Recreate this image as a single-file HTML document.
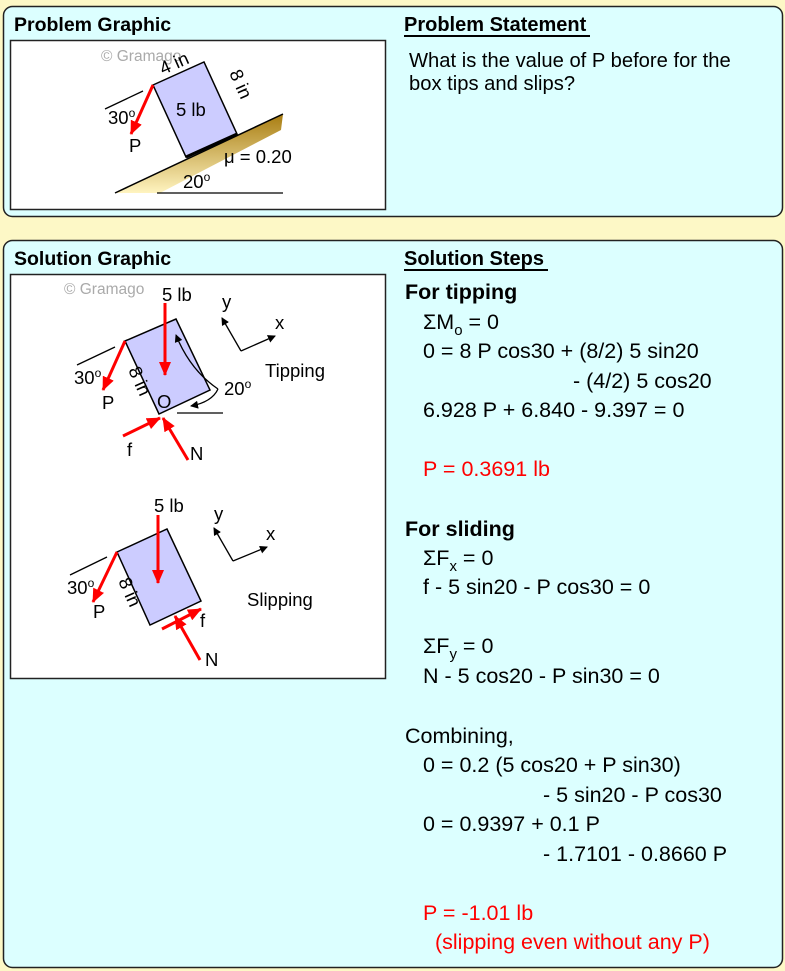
<!DOCTYPE html>
<html><head><meta charset="utf-8"><style>
html,body{margin:0;padding:0;background:#fdf8c6;}
svg{display:block;font-family:"Liberation Sans",Arial,sans-serif;}
</style></head><body>
<svg width="785" height="971" viewBox="0 0 785 971" xmlns="http://www.w3.org/2000/svg">
<defs>
<marker id="ar" markerWidth="8" markerHeight="8" refX="7" refY="4" orient="auto" markerUnits="userSpaceOnUse"><path d="M0,0 L8,4 L0,8 Z" fill="#000"/></marker>
<marker id="rr" markerWidth="14" markerHeight="12" refX="13" refY="6" orient="auto" markerUnits="userSpaceOnUse"><path d="M0,0 L14,6 L0,12 Z" fill="#f00"/></marker>
<linearGradient id="gd" x1="0" y1="0" x2="0" y2="1"><stop offset="0" stop-color="#a87c10"/><stop offset="1" stop-color="#fff4c0"/></linearGradient>
</defs>
<rect x="3.5" y="6.5" width="779" height="210" rx="9" fill="#dcffff" stroke="#222" stroke-width="1.5"/>
<rect x="3.5" y="240.5" width="779" height="727" rx="9" fill="#dcffff" stroke="#222" stroke-width="1.5"/>
<text x="14" y="31" font-size="19.5" font-weight="bold">Problem Graphic</text>
<text x="404" y="31" font-size="20" font-weight="bold">Problem Statement</text>
<line x1="404" y1="36" x2="590" y2="36" stroke="#000" stroke-width="2"/>
<text x="409" y="67" font-size="20.2">What is the value of P before for the</text>
<text x="409" y="90" font-size="20.2">box tips and slips?</text>
<rect x="10.5" y="40.5" width="375" height="169" fill="#fff" stroke="#222" stroke-width="1.5"/>
<text x="101" y="61" font-size="15.5" fill="#aaa">© Gramago</text>
<polygon points="115,193 283,114 281,130 160,193" fill="url(#gd)"/>
<line x1="115" y1="193" x2="283" y2="114" stroke="#000" stroke-width="1.5"/>
<line x1="157" y1="193" x2="283" y2="193" stroke="#000" stroke-width="1.3"/>
<polygon points="153,85 204,62 237,134 186,157" fill="#ccccff" stroke="#000" stroke-width="1.5"/>
<line x1="186" y1="157" x2="237" y2="134" stroke="#000" stroke-width="3"/>
<line x1="105" y1="109" x2="143" y2="91" stroke="#000" stroke-width="1.3"/>
<line x1="153" y1="85" x2="131" y2="134" stroke="#f00" stroke-width="3" marker-end="url(#rr)"/>
<g font-size="18.5">
<text x="108" y="124">30<tspan font-size="12" dy="-7">o</tspan></text>
<text x="129" y="152">P</text>
<text x="176" y="116">5 lb</text>
<text transform="translate(163,75) rotate(-24)">4 in</text>
<text transform="translate(229,73) rotate(66)">8 in</text>
<text x="224" y="163">μ = 0.20</text>
<text x="183" y="188">20<tspan font-size="12" dy="-7">o</tspan></text>
</g>

<text x="14" y="265" font-size="19.5" font-weight="bold">Solution Graphic</text>
<text x="404" y="265" font-size="20" font-weight="bold">Solution Steps</text>
<line x1="404" y1="270" x2="548" y2="270" stroke="#000" stroke-width="2"/>
<rect x="10.5" y="274.5" width="375" height="404" fill="#fff" stroke="#222" stroke-width="1.5"/>
<text x="64" y="294" font-size="15.5" fill="#aaa">© Gramago</text>
<g font-size="18.5">
<!-- tipping -->
<polygon points="125,341 176,319 210,390 159,414" fill="#ccccff" stroke="#000" stroke-width="1.5"/>
<line x1="165" y1="303" x2="165" y2="375" stroke="#f00" stroke-width="3" marker-end="url(#rr)"/>
<text x="162" y="301">5 lb</text>
<line x1="77" y1="365" x2="115" y2="347" stroke="#000" stroke-width="1.3"/>
<line x1="125" y1="341" x2="103" y2="390" stroke="#f00" stroke-width="3" marker-end="url(#rr)"/>
<text x="74" y="384">30<tspan font-size="12" dy="-7">o</tspan></text>
<text x="102" y="409">P</text>
<text transform="translate(128,370) rotate(66)">8 in</text>
<text x="157" y="408">O</text>
<line x1="123" y1="436" x2="160" y2="418" stroke="#f00" stroke-width="3" marker-end="url(#rr)"/>
<line x1="188" y1="460" x2="163" y2="418" stroke="#f00" stroke-width="3" marker-end="url(#rr)"/>
<text x="127" y="456">f</text>
<text x="190" y="460">N</text>
<line x1="241" y1="351" x2="222" y2="318" stroke="#000" stroke-width="1.3" marker-end="url(#ar)"/>
<line x1="241" y1="351" x2="275" y2="336" stroke="#000" stroke-width="1.3" marker-end="url(#ar)"/>
<text x="222" y="308">y</text>
<text x="275" y="329">x</text>
<text x="265" y="377">Tipping</text>
<path d="M218,389 Q190,370 176,335" fill="none" stroke="#000" stroke-width="1.3" marker-end="url(#ar)"/>
<path d="M218,389 Q212,402 191,406" fill="none" stroke="#000" stroke-width="1.3" marker-end="url(#ar)"/>
<line x1="177" y1="413" x2="223" y2="413" stroke="#000" stroke-width="1.3"/>
<text x="224" y="395">20<tspan font-size="12" dy="-7">o</tspan></text>
<!-- slipping -->
<polygon points="117,552 167,529 201,601 150,625" fill="#ccccff" stroke="#000" stroke-width="1.5"/>
<line x1="158" y1="515" x2="158" y2="583" stroke="#f00" stroke-width="3" marker-end="url(#rr)"/>
<text x="154" y="512">5 lb</text>
<line x1="70" y1="575" x2="107" y2="557" stroke="#000" stroke-width="1.3"/>
<line x1="117" y1="552" x2="93" y2="602" stroke="#f00" stroke-width="3" marker-end="url(#rr)"/>
<text x="67" y="594">30<tspan font-size="12" dy="-7">o</tspan></text>
<text x="93" y="618">P</text>
<text transform="translate(118,581) rotate(66)">8 in</text>
<line x1="162" y1="629" x2="201" y2="609" stroke="#f00" stroke-width="3" marker-end="url(#rr)"/>
<line x1="200" y1="660" x2="175" y2="616" stroke="#f00" stroke-width="3" marker-end="url(#rr)"/>
<text x="200" y="627">f</text>
<text x="205" y="666">N</text>
<line x1="233" y1="561" x2="214" y2="528" stroke="#000" stroke-width="1.3" marker-end="url(#ar)"/>
<line x1="233" y1="561" x2="267" y2="547" stroke="#000" stroke-width="1.3" marker-end="url(#ar)"/>
<text x="214" y="520">y</text>
<text x="266" y="540">x</text>
<text x="247" y="606">Slipping</text>
</g>

<g font-size="21.5">
<text x="405" y="299" font-weight="bold">For tipping</text>
<text x="423" y="329">ΣM<tspan font-size="15" dy="6">o</tspan><tspan dy="-6"> = 0</tspan></text>
<text x="423" y="358">0 = 8 P cos30 + (8/2) 5 sin20</text>
<text x="573" y="388">- (4/2) 5 cos20</text>
<text x="423" y="417">6.928 P + 6.840 - 9.397 = 0</text>
<text x="423" y="476" fill="#f00">P = 0.3691 lb</text>
<text x="405" y="536" font-weight="bold">For sliding</text>
<text x="423" y="565">ΣF<tspan font-size="15" dy="6">x</tspan><tspan dy="-6"> = 0</tspan></text>
<text x="423" y="594">f - 5 sin20 - P cos30 = 0</text>
<text x="423" y="653">ΣF<tspan font-size="15" dy="6">y</tspan><tspan dy="-6"> = 0</tspan></text>
<text x="423" y="683">N - 5 cos20 - P sin30 = 0</text>
<text x="405" y="743">Combining,</text>
<text x="423" y="772">0 = 0.2 (5 cos20 + P sin30)</text>
<text x="543" y="802">- 5 sin20 - P cos30</text>
<text x="423" y="831">0 = 0.9397 + 0.1 P</text>
<text x="543" y="861">- 1.7101 - 0.8660 P</text>
<text x="423" y="920" fill="#f00">P = -1.01 lb</text>
<text x="435" y="949" fill="#f00">(slipping even without any P)</text>
</g>
</svg>
</body></html>
